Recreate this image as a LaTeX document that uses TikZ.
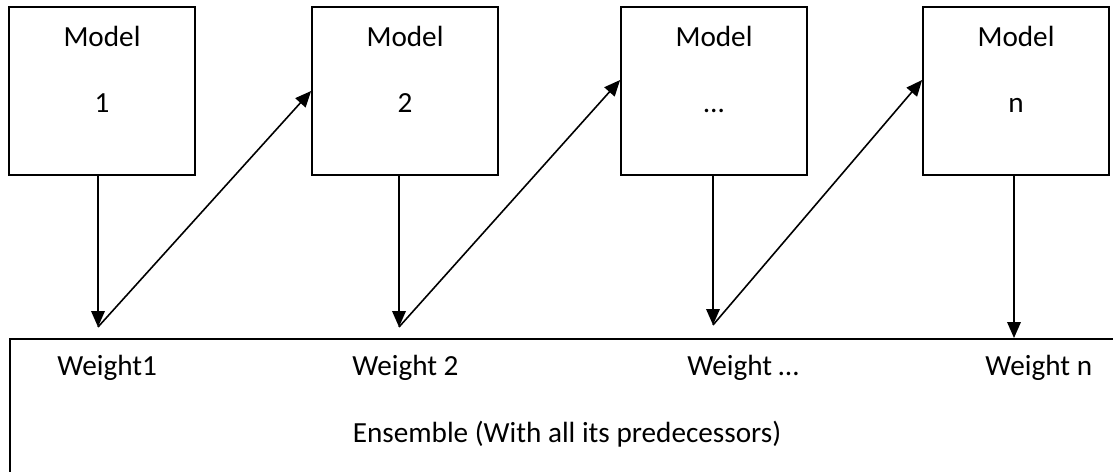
\documentclass[tikz,border=0pt]{standalone}
\usepackage{fontspec}
\setmainfont{Carlito}
\usetikzlibrary{arrows.meta,calc,positioning}

\begin{document}
\begin{tikzpicture}[x=0.5pt,y=-0.5pt,
  every node/.style={font=\fontsize{14.6}{17}\selectfont, inner sep=0pt},
  model/.style={draw, line width=0.9pt, minimum width=93pt, minimum height=84pt},
  link/.style={line width=0.8pt, -{Triangle[length=8pt,width=6.8pt]}}]
  \useasboundingbox (0,0) rectangle (1113,471);
  \clip (0,0) rectangle (1113,471);

  % the models
  \node[model] (m1) at (102,91) {};
  \node[model] (m2) at (405,91) {};
  \node[model] (m3) at (714,91) {};
  \node[model] (m4) at (1016,91) {};
  \foreach \m/\t in {m1/1,m2/2,m3/…,m4/n} {
    \node[anchor=base] (\m title) at ($(\m.north)+(0,40)$) {Model};
    \node[anchor=base] (\m num) at ($(\m.north)+(0,106)$) {\t};
  }

  % ensemble box, runs off to the right and bottom
  \node[draw, line width=0.9pt, anchor=north west, minimum width=600pt, minimum height=100pt] (ens) at (9,338) {};
  \node[anchor=base west] (wt1) at (57,375) {Weight1};
  \node[anchor=base west] (wt2) at (352,375) {Weight 2};
  \node[anchor=base west] (wt3) at (687,375) {Weight …};
  \node[anchor=base west] (wt4) at (985,375) {Weight n};
  \node[anchor=base] (enslbl) at (567,442) {Ensemble (With all its predecessors)};

  % where each model hands over its weights
  \coordinate (w1) at (98,327);
  \coordinate (w2) at (399,327);
  \coordinate (w3) at (713,325);
  \coordinate (w4) at (1014,338);

  \draw[link] (m1.south -| w1) -- (w1);
  \draw[link] (m2.south -| w2) -- (w2);
  \draw[link] (m3.south -| w3) -- (w3);
  \draw[link] (m4.south -| w4) -- (w4);

  \draw[link] (w1) -- (m2.west);
  \draw[link] (w2) -- ($(m3.west)+(0,-11)$);
  \draw[link] (w3) -- ($(m4.west)+(0,-11)$);
\end{tikzpicture}
\end{document}
